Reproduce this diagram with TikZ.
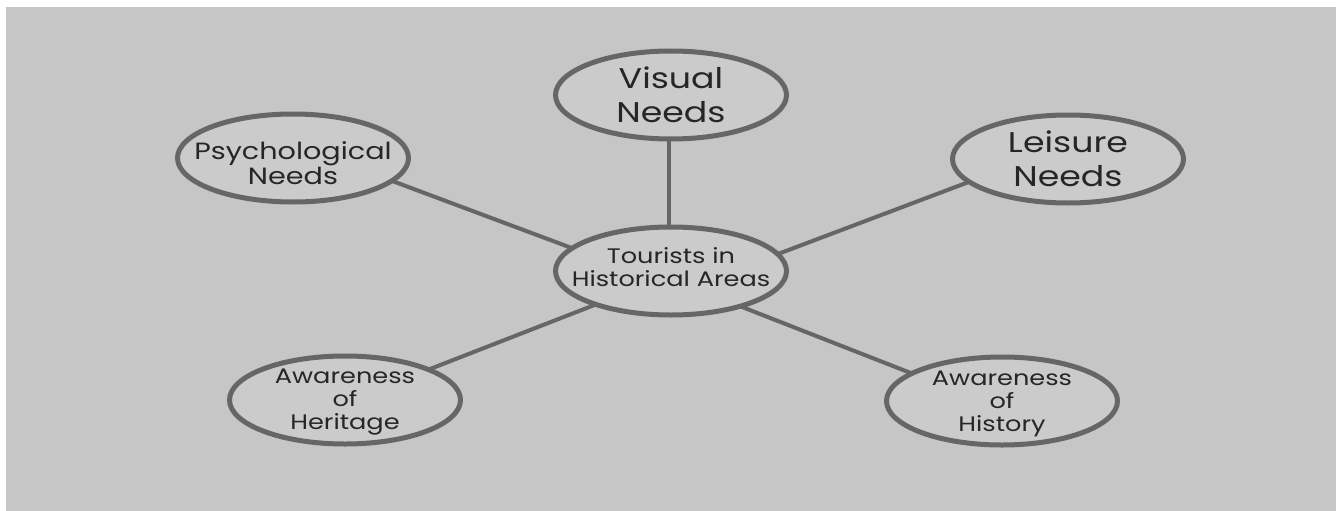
\documentclass[tikz,border=0pt]{standalone}
\usepackage{fontspec}
\setmainfont{Poppins}[FakeStretch=1.22]
\usetikzlibrary{shapes.geometric}
\definecolor{paper}{RGB}{198,198,198}
\definecolor{bubblefill}{RGB}{203,203,203}
\definecolor{rim}{RGB}{102,102,102}
\definecolor{ink}{RGB}{38,38,38}
\begin{document}
\begin{tikzpicture}[x=1pt,y=-1pt,
  bubble/.style={ellipse, draw=rim, line width=5pt, fill=bubblefill,
    minimum width=231pt, minimum height=88pt, inner sep=0pt, outer sep=0pt},
  caption/.style={text=ink, align=center, inner sep=0pt},
  big/.style={font=\fontsize{28.5}{34}\selectfont},
  mid/.style={font=\fontsize{23.5}{25}\selectfont},
  small/.style={font=\fontsize{21}{23}\selectfont},
  link/.style={draw=rim, line width=4pt}]
  % page and grey panel
  \useasboundingbox (0,0) rectangle (1338,511);
  \fill[white] (0,0) rectangle (1338,511);
  \fill[paper] (6,7) rectangle (1336,511);

  % bubbles
  \node[bubble] (hub) at (671,271) {};
  \node[bubble] (vis) at (671,95) {};
  \node[bubble] (psy) at (293,158) {};
  \node[bubble] (lei) at (1068,159) {};
  \node[bubble] (her) at (345,400) {};
  \node[bubble] (his) at (1002,401) {};

  % captions
  \node[caption, small] (hubT) at (671,267) {Tourists in\\Historical Areas};
  \node[caption, big]   (visT) at (671,95)  {Visual\\Needs};
  \node[caption, mid]   (psyT) at (293,163) {Psychological\\Needs};
  \node[caption, big]   (leiT) at (1068,159) {Leisure\\Needs};
  \node[caption, small] (herT) at (345,402) {Awareness\\of\\Heritage};
  \node[caption, small] (hisT) at (1002,404) {Awareness\\of\\History};

  % spokes
  \draw[link] (hub.92)  -- (vis.-92);
  \draw[link] (hub.167) -- (psy.-13);
  \draw[link] (hub.9)   -- (lei.193);
  \draw[link] (hub.204) -- (her.20);
  \draw[link] (hub.-27) -- (his.163);
\end{tikzpicture}
\end{document}
